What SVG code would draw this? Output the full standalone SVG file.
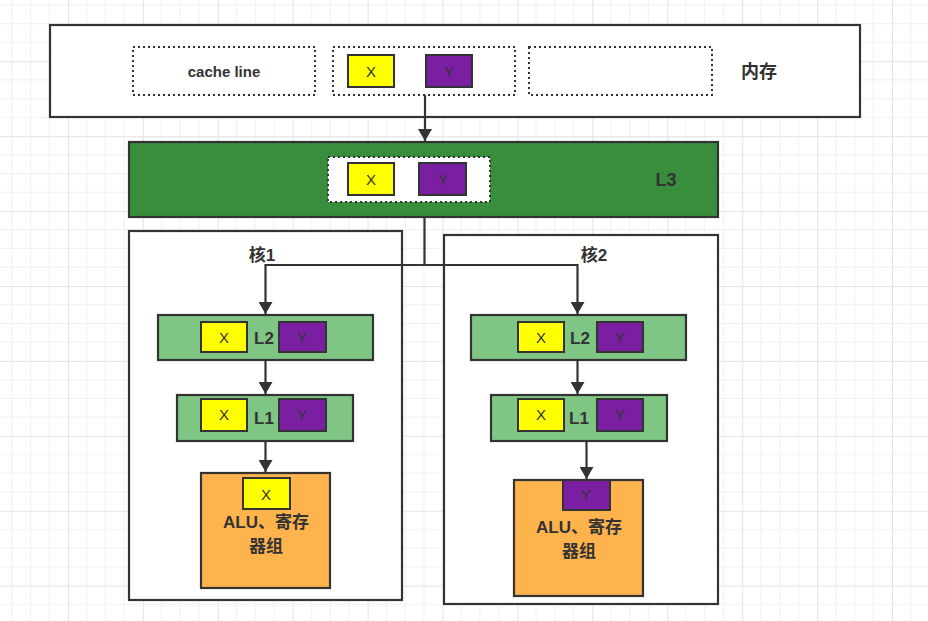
<svg xmlns="http://www.w3.org/2000/svg" width="928" height="621" viewBox="0 0 928 621">
<defs>
<pattern id="grid" x="-7" y="-13.7" width="74.92" height="74.92" patternUnits="userSpaceOnUse">
<path d="M18.73 0V74.92M37.46 0V74.92M56.19 0V74.92M0 18.73H74.92M0 37.46H74.92M0 56.19H74.92" stroke="#f0f0f0" stroke-width="1" fill="none"/>
<path d="M0.5 0V74.92M0 0.5H74.92" stroke="#e3e3e3" stroke-width="1" fill="none"/>
</pattern>
<marker id="arr" viewBox="0 0 12 14" refX="12" refY="7" markerWidth="12" markerHeight="14" markerUnits="userSpaceOnUse" orient="auto">
<path d="M0 0L12 7L0 14Z" fill="#333"/>
</marker>
<style>
.box{stroke:#333;stroke-width:2.2}
.dot{fill:#fff;stroke:#333;stroke-width:2;stroke-dasharray:2 3}
.x{fill:#ffff00;stroke:#333;stroke-width:2}
.y{fill:#7b1fa2;stroke:#333;stroke-width:2}
.lbl{font-family:"Liberation Sans","Noto Sans CJK SC",sans-serif;fill:#333;text-anchor:middle;dominant-baseline:central}
.b{font-weight:bold}
.s{font-size:15px}
.m{font-size:17px}
.l{font-size:18px}
.xy{font-size:15px}
.edge{fill:none;stroke:#333;stroke-width:2.2}
</style>
</defs>
<rect width="928" height="621" fill="#fff"/>
<rect width="928" height="621" fill="url(#grid)"/>

<g id="memory">
<rect class="box" x="50" y="25" width="810" height="92" fill="#fff"/>
<rect class="dot" x="133" y="47" width="182" height="48"/>
<text class="lbl b s" x="224" y="71">cache line</text>
<rect class="dot" x="333" y="47" width="182" height="48"/>
<rect class="x" x="348" y="55" width="46" height="32"/>
<text class="lbl xy" x="371" y="71">X</text>
<rect class="y" x="426" y="55" width="46" height="32"/>
<text class="lbl xy" x="449" y="71">Y</text>
<rect class="dot" x="529" y="47" width="183" height="48"/>
<text class="lbl b l" x="759" y="72">内存</text>
</g>

<g id="l3">
<rect class="box" x="129" y="142" width="589" height="75" fill="#388e3c"/>
<rect class="dot" x="328" y="157" width="162" height="45"/>
<rect class="x" x="348" y="163" width="46" height="32"/>
<text class="lbl xy" x="371" y="179">X</text>
<rect class="y" x="419" y="163" width="47" height="32"/>
<text class="lbl xy" x="443" y="179">Y</text>
<text class="lbl b l" x="666" y="180">L3</text>
</g>

<g id="core1">
<rect class="box" x="129" y="231" width="273" height="369" fill="#fff"/>
<text class="lbl b m" x="262" y="255">核1</text>
</g>
<g id="core2">
<rect class="box" x="444" y="235" width="274" height="369" fill="#fff"/>
<text class="lbl b m" x="594" y="255">核2</text>
</g>

<g id="c1-l2">
<rect class="box" x="158" y="315" width="215" height="45" fill="#7fc685"/>
<rect class="x" x="201" y="322" width="46" height="30"/>
<text class="lbl xy" x="224" y="337">X</text>
<text class="lbl b m" x="264" y="338">L2</text>
<rect class="y" x="279" y="322" width="47" height="30"/>
<text class="lbl xy" x="302" y="337">Y</text>
</g>
<g id="c1-l1">
<rect class="box" x="177" y="395" width="176" height="46" fill="#7fc685"/>
<rect class="x" x="201" y="399" width="46" height="32"/>
<text class="lbl xy" x="224" y="414">X</text>
<text class="lbl b m" x="264" y="418">L1</text>
<rect class="y" x="279" y="399" width="47" height="32"/>
<text class="lbl xy" x="302" y="414">Y</text>
</g>
<g id="c1-alu">
<rect class="box" x="201" y="473" width="129" height="115" fill="#ffb34d"/>
<rect class="x" x="243" y="478" width="47" height="31"/>
<text class="lbl xy" x="266" y="494">X</text>
<text class="lbl b m" x="266" y="522">ALU、寄存</text>
<text class="lbl b m" x="266" y="546">器组</text>
</g>

<g id="c2-l2">
<rect class="box" x="471" y="315" width="215" height="45" fill="#7fc685"/>
<rect class="x" x="518" y="322" width="46" height="30"/>
<text class="lbl xy" x="541" y="337">X</text>
<text class="lbl b m" x="580" y="338">L2</text>
<rect class="y" x="597" y="322" width="46" height="30"/>
<text class="lbl xy" x="620" y="337">Y</text>
</g>
<g id="c2-l1">
<rect class="box" x="491" y="395" width="176" height="46" fill="#7fc685"/>
<rect class="x" x="518" y="399" width="46" height="32"/>
<text class="lbl xy" x="541" y="414">X</text>
<text class="lbl b m" x="579" y="418">L1</text>
<rect class="y" x="597" y="399" width="46" height="32"/>
<text class="lbl xy" x="620" y="414">Y</text>
</g>
<g id="c2-alu">
<rect class="box" x="514" y="480" width="129" height="116" fill="#ffb34d"/>
<rect class="y" x="563" y="480" width="47" height="30"/>
<text class="lbl xy" x="586" y="494">Y</text>
<text class="lbl b m" x="579" y="527">ALU、寄存</text>
<text class="lbl b m" x="579" y="551">器组</text>
</g>

<g id="connectors">
<path class="edge" d="M425 95V141" marker-end="url(#arr)"/>
<path class="edge" d="M424.5 217V265H265.5V314" marker-end="url(#arr)"/>
<path class="edge" d="M424.5 265H577.5V314" marker-end="url(#arr)"/>
<path class="edge" d="M265.5 360V394" marker-end="url(#arr)"/>
<path class="edge" d="M265.5 441V472" marker-end="url(#arr)"/>
<path class="edge" d="M577.5 360V394" marker-end="url(#arr)"/>
<path class="edge" d="M586.5 441V479" marker-end="url(#arr)"/>
</g>
</svg>
